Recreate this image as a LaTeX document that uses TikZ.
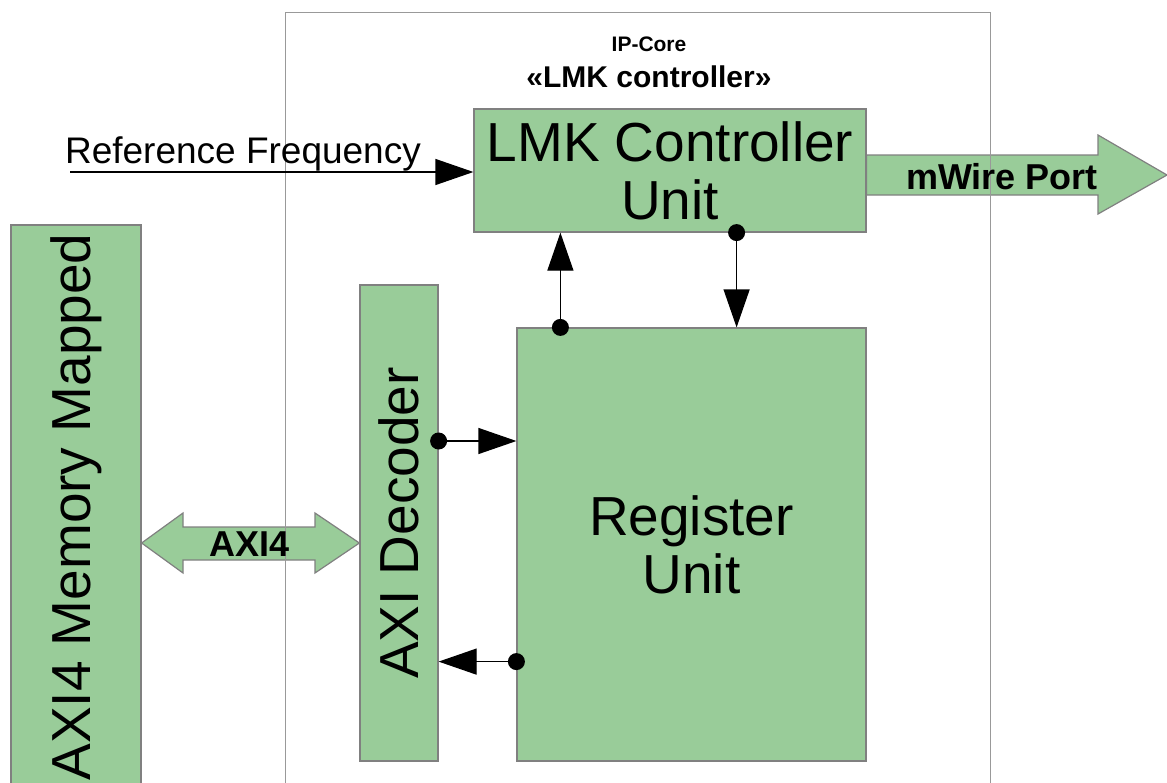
\documentclass[tikz,border=0pt]{standalone}
\usepackage{fontspec}
\setmainfont{Liberation Sans}
\usetikzlibrary{arrows.meta,calc}

\definecolor{blockgreen}{RGB}{153,204,153}
\definecolor{edgegray}{RGB}{128,128,128}
\tikzset{
  block/.style={draw=edgegray,line width=1.2pt,fill=blockgreen,inner sep=0pt,
    align=center,font=\fontsize{55}{58}\selectfont},
  fatarrow/.style={draw=edgegray,line width=1.2pt,fill=blockgreen},
  wire/.style={black,line width=1.2pt,-{Triangle[length=38pt,width=26pt]}},
  dot/.style={fill=black}
}

\begin{document}
\begin{tikzpicture}[x=1pt,y=-1pt]
\useasboundingbox (0,0) rectangle (1167,782);
\clip (0,0) rectangle (1167,782);

% blocks
\node[block,rotate=90,minimum width=564pt,minimum height=130pt] (axibus) at (76,507) {AXI4 Memory Mapped};
\node[block,rotate=90,minimum width=476pt,minimum height=78pt] (decoder) at (399,523) {AXI Decoder};
\node[block,minimum width=392pt,minimum height=123pt] (lmk) at (670,170.5) {LMK Controller\\Unit};
\node[block,minimum width=349pt,minimum height=433pt] (reg) at (691.5,544.5) {Register\\Unit};

% block arrows
\draw[fatarrow] (lmk.east |- 0,155) -- (1098,155) -- (1098,135) -- (1167,175)
  -- (1098,214) -- (1098,195) -- (lmk.east |- 0,195) -- cycle;
\draw[fatarrow] (axibus.south |- 0,543) -- (183,513) -- (183,527) -- (315,527) -- (315,513)
  -- (decoder.north |- 0,543) -- (315,573) -- (315,560) -- (183,560) -- (183,573) -- cycle;

% ip core frame
\node[draw=edgegray!80,line width=1pt,minimum width=705pt,minimum height=800pt] (ipcore) at (637.5,412) {};
\node[font=\bfseries\fontsize{21}{24}\selectfont] (corelabel) at (649,44) {IP-Core};
\node[font=\bfseries\fontsize{30}{34}\selectfont] (corename) at (649,77) {«LMK controller»};

\node[font=\bfseries\fontsize{36}{40}\selectfont,anchor=base] (mwire) at (1002,189) {mWire Port};
\node[font=\bfseries\fontsize{36}{40}\selectfont,anchor=base] (axilabel) at (250,556) {AXI4};

% reference input
\node[font=\fontsize{37}{40}\selectfont,anchor=base] (reftext) at (243,163) {Reference Frequency};
\coordinate (refin) at (70,172);
\draw[wire] (refin) -- (refin -| lmk.west);

% connectors
\coordinate (regtop) at ([xshift=44pt]reg.north west);
\coordinate (lmkbot) at ([xshift=-130pt]lmk.south east);
\coordinate (decout) at (decoder.south |- 0,441);
\coordinate (regout) at ([yshift=100pt]reg.south west);
\draw[wire] (regtop) -- (regtop |- lmk.south);
\fill[dot] (regtop) circle [radius=8.5];
\draw[wire] (lmkbot) -- (lmkbot |- reg.north);
\fill[dot] (lmkbot) circle [radius=8.5];
\draw[wire] (decout) -- (decout -| reg.west);
\fill[dot] (decout) circle [radius=8.5];
\draw[wire] (regout) -- (regout -| decoder.south);
\fill[dot] (regout) circle [radius=8.5];
\end{tikzpicture}
\end{document}
